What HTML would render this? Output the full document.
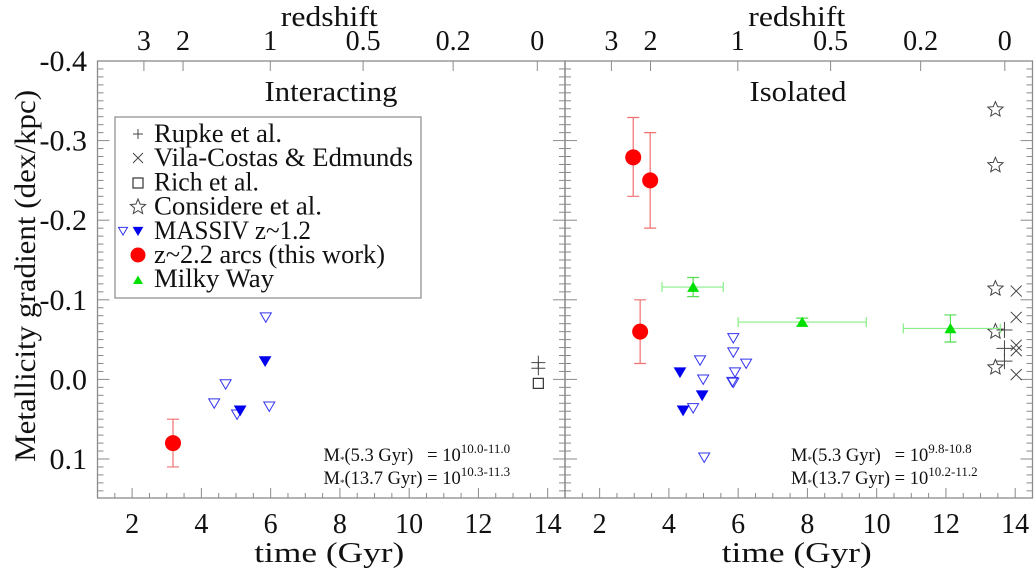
<!DOCTYPE html>
<html><head><meta charset="utf-8"><style>
html,body{margin:0;padding:0;background:#fff;}
svg{display:block;font-family:"Liberation Serif",serif;}
</style></head><body>
<svg id="chart" width="1036" height="572" viewBox="0 0 1036 572"></svg>
<script>
// ---- data ----
const yTicks = [-0.4,-0.3,-0.2,-0.1,0.0,0.1];
const yTickLabels = ["-0.4","-0.3","-0.2","-0.1","0.0","0.1"];
const xTicks = [2,4,6,8,10,12,14];
const zTicks = [2.34,3.47,5.99,8.67,11.27,13.7];
const zTickLabels = ["3","2","1","0.5","0.2","0"];
// left panel (Interacting)
const L_arcsT = [3.18], L_arcsV = [0.080], L_arcsLo = [0.050], L_arcsHi = [0.110];
const L_openT = [5.86,4.70,4.37,5.03,5.96], L_openV = [-0.078,0.006,0.030,0.044,0.034];
const L_fillT = [5.84,5.12], L_fillV = [-0.023,0.039];
const L_plusT = [13.73,13.73], L_plusV = [-0.021,-0.014];
const L_sqT = [13.73], L_sqV = [0.005];
// right panel (Isolated)
const R_arcsT = [2.97,3.46,3.17], R_arcsV = [-0.279,-0.25,-0.06], R_arcsLo = [-0.329,-0.31,-0.10], R_arcsHi = [-0.230,-0.19,-0.02];
const R_mwT = [4.70,7.85,12.13], R_mwV = [-0.116,-0.072,-0.064];
const R_mwTlo = [3.80,6.0,10.77], R_mwThi = [5.57,9.7,13.57], R_mwErr = [0.012,0.005,0.017];
const R_fillT = [4.32,4.96,4.41], R_fillV = [-0.009,0.020,0.039];
const R_openT = [4.90,4.99,5.86,5.86,6.23,5.91,5.83,5.86,4.70,5.02], R_openV = [-0.024,0,-0.052,-0.034,-0.020,-0.009,0.003,0.004,0.036,0.098];
const R_starT = [13.43,13.43,13.43,13.43,13.43], R_starV = [-0.339,-0.269,-0.114,-0.060,-0.015];
const R_xT = [14.03,14.03,14.03,14.03,14.03], R_xV = [-0.111,-0.078,-0.043,-0.036,-0.006];
const R_plusT = [13.69,13.69,13.69], R_plusV = [-0.062,-0.039,-0.023];

// ---- axes ----
const svg = document.getElementById('chart');
const NS = 'http://www.w3.org/2000/svg';
const Y0 = 61, Y1 = 498, VMIN = -0.4, VMAX = 0.149;
const PW = 467.5, TMIN = 1, TMAX = 14.5;
const panelX = [97.5, 565];
function yS(v){ return Y0 + (v - VMIN) / (VMAX - VMIN) * (Y1 - Y0); }
function xS(p, t){ return panelX[p] + (t - TMIN) / (TMAX - TMIN) * PW; }
function mk(tag, attrs, parent){ const e = document.createElementNS(NS, tag); for (const k in attrs) e.setAttribute(k, attrs[k]); (parent || svg).appendChild(e); return e; }
function txt(x, y, s, size, anchor, parent, len){ const a = {x:x, y:y, 'font-size':size, 'text-anchor':anchor || 'middle', fill:'#111'}; if (len){ a.textLength = len; a.lengthAdjust = 'spacingAndGlyphs'; } const e = mk('text', a, parent); e.textContent = s; return e; }

const AX = '#8a8a8a';
for (let p = 0; p < 2; p++){
  const g = mk('g', {});
  
  
  const x0 = panelX[p], x1 = x0 + PW;
  const frame = mk('rect', {x:x0, y:Y0, width:PW, height:Y1-Y0, fill:'none', stroke:AX, 'stroke-width':1.3}, g);
  
  
  for (let i = 0; i <= 55; i++){
    const v = -0.4 + i * 0.01; if (v > VMAX) break;
    const major = i % 10 === 0; const len = major ? 12 : 6; const y = yS(v);
    mk('line', {x1:x0, x2:x0+len, y1:y, y2:y, stroke:AX, 'stroke-width':1}, g);
    mk('line', {x1:x1, x2:x1-len, y1:y, y2:y, stroke:AX, 'stroke-width':1}, g);
  }
  for (let t = 1; t <= 14.5; t += 0.5){
    const major = Math.abs(t - Math.round(t/2)*2) < 1e-6; const x = xS(p, t);
    mk('line', {x1:x, x2:x, y1:Y1, y2:Y1-(major?10:5), stroke:AX, 'stroke-width':1}, g);
  }
  xTicks.forEach(t => { const e = txt(xS(p,t), 533, String(t), 28, 'middle', g);   });
  zTicks.forEach((t, i) => {
    const x = xS(p, t);
    mk('line', {x1:x, x2:x, y1:Y0, y2:Y0+10, stroke:AX, 'stroke-width':1}, g);
    const e = txt(x, 50, zTickLabels[i], 28, 'middle', g);
    
    
  });
  const zt = txt(x0 + PW/2 - 2, 26, 'redshift', 28, 'middle', g, 97);
   
  const xt = txt(x0 + PW/2 - 2, 562, 'time (Gyr)', 29, 'middle', g, 150);
   
  const pt = p ? txt(798, 101, 'Isolated', 29, 'middle', g, 97) : txt(331, 101, 'Interacting', 29, 'middle', g, 133);
   
  const lines = p ? [['M','(5.3 Gyr)\u00a0\u00a0 = 10','9.8-10.8'],['M','(13.7 Gyr) = 10','10.2-11.2']]
                  : [['M','(5.3 Gyr)\u00a0\u00a0 = 10','10.0-11.0'],['M','(13.7 Gyr) = 10','10.3-11.3']];
  lines.forEach((l, i) => {
    const t = mk('text', {x:x0 + 226, y:461 + i*23, 'font-size':18.5, fill:'#111'}, g);
    
    
    const a = mk('tspan', {}, t); a.textContent = l[0];
    const b = mk('tspan', {'font-size':9, dy:2}, t); b.textContent = '*';
    const c = mk('tspan', {dy:-2}, t); c.textContent = l[1];
    const d = mk('tspan', {'font-size':13, dy:-8}, t); d.textContent = l[2];
  });
}
yTicks.forEach((v, i) => { const e = txt(87, yS(v)+10, yTickLabels[i], 30, 'end');   });
const yl = txt(0, 0, 'Metallicity gradient (dex/kpc)', 30, 'middle', null, 372);
yl.setAttribute('transform', 'translate(35,' + yS(-0.13) + ') rotate(-90)');
 

// ---- markers ----
function triDown(x, y, r, fill, stroke){ return mk('polygon', {points:`${x-r},${y-r*0.8} ${x+r},${y-r*0.8} ${x},${y+r*0.9}`, fill:fill, stroke:stroke, 'stroke-width':1}); }
function triUp(x, y, r){ return mk('polygon', {points:`${x-r},${y+r*0.8} ${x+r},${y+r*0.8} ${x},${y-r*0.9}`, fill:'#00e000', stroke:'none'}); }
function plus(x, y, r){ return mk('path', {d:`M${x-r},${y}H${x+r}M${x},${y-r}V${y+r}`, stroke:'#444', 'stroke-width':1, fill:'none'}); }
function cross(x, y, r){ return mk('path', {d:`M${x-r},${y-r}L${x+r},${y+r}M${x+r},${y-r}L${x-r},${y+r}`, stroke:'#444', 'stroke-width':1, fill:'none'}); }
function square(x, y, r){ return mk('rect', {x:x-r, y:y-r, width:2*r, height:2*r, fill:'none', stroke:'#333', 'stroke-width':1.2}); }
function star(x, y, R){ let pts = []; for (let i = 0; i < 10; i++){ const a = -Math.PI/2 + i*Math.PI/5; const r = i%2 ? R*0.45 : R; pts.push((x + r*Math.cos(a)).toFixed(1) + ',' + (y + r*Math.sin(a)).toFixed(1)); } return mk('polygon', {points:pts.join(' '), fill:'none', stroke:'#444', 'stroke-width':1}); }
function vErr(x, ylo, yhi, col, w){ mk('path', {d:`M${x},${ylo}V${yhi}M${x-w},${ylo}H${x+w}M${x-w},${yhi}H${x+w}`, stroke:col, 'stroke-width':1.2, fill:'none'}); }
function hErr(xlo, xhi, y, col, h){ mk('path', {d:`M${xlo},${y}H${xhi}M${xlo},${y-h}V${y+h}M${xhi},${y-h}V${y+h}`, stroke:col, 'stroke-width':1.2, fill:'none'}); }
function name(e, n){   }

function drawArcs(p, T, V, lo, hi){ T.forEach((t, i) => { const x = xS(p,t); vErr(x, yS(lo[i]), yS(hi[i]), '#f07070', 6); const c = mk('circle', {cx:x, cy:yS(V[i]), r:8, fill:'#ff0000'}); name(c, 'arc-point'); }); }
drawArcs(0, L_arcsT, L_arcsV, L_arcsLo, L_arcsHi);
drawArcs(1, R_arcsT, R_arcsV, R_arcsLo, R_arcsHi);
L_openT.forEach((t, i) => name(triDown(xS(0,t), yS(L_openV[i]), 5.5, 'none', '#3333ee'), 'massiv-open-point'));
R_openT.forEach((t, i) => name(triDown(xS(1,t), yS(R_openV[i]), 5.5, 'none', '#3333ee'), 'massiv-open-point'));
L_fillT.forEach((t, i) => name(triDown(xS(0,t), yS(L_fillV[i]), 5.5, '#0000ee', '#0000ee'), 'massiv-filled-point'));
R_fillT.forEach((t, i) => name(triDown(xS(1,t), yS(R_fillV[i]), 5.5, '#0000ee', '#0000ee'), 'massiv-filled-point'));
L_plusT.forEach((t, i) => name(plus(xS(0,t), yS(L_plusV[i]), 7), 'rupke-point'));
R_plusT.forEach((t, i) => name(plus(xS(1,t), yS(R_plusV[i]), 8), 'rupke-point'));
L_sqT.forEach((t, i) => name(square(xS(0,t), yS(L_sqV[i]), 5), 'rich-point'));
R_starT.forEach((t, i) => name(star(xS(1,t), yS(R_starV[i]), 8), 'considere-point'));
R_xT.forEach((t, i) => name(cross(xS(1,t), yS(R_xV[i]), 5.5), 'vila-costas-point'));
R_mwT.forEach((t, i) => {
  const y = yS(R_mwV[i]), x = xS(1,t);
  hErr(xS(1,R_mwTlo[i]), xS(1,R_mwThi[i]), y, '#88ee88', 5);
  vErr(x, yS(R_mwV[i]-R_mwErr[i]), yS(R_mwV[i]+R_mwErr[i]), '#55dd55', 6);
  name(triUp(x, y, 6), 'milky-way-point');
});

// ---- legend ----
const lg = mk('g', {});
 
mk('rect', {x:115, y:117, width:306, height:181, fill:'#fff', stroke:AX, 'stroke-width':1.2}, lg);
const labels = ['Rupke et al.','Vila-Costas & Edmunds','Rich et al.','Considere et al.','MASSIV z~1.2','z~2.2 arcs (this work)','Milky Way'];
const labelLens = [128,259,105,168,157,231,120];
labels.forEach((s, i) => { const y = 134 + i*24.2; const e = txt(154, y+8, s, 26, 'start', lg, labelLens[i]);   });
lg.appendChild(plus(138, 134, 5));
lg.appendChild(cross(138, 158, 5));
lg.appendChild(square(138, 183, 5));
lg.appendChild(star(138, 207, 8));
lg.appendChild(triDown(123, 231, 4.5, 'none', '#3333ee'));
lg.appendChild(triDown(138, 231, 4.5, '#0000ee', '#0000ee'));
lg.appendChild(mk('circle', {cx:138, cy:255, r:7.5, fill:'#ff0000'}));
lg.appendChild(triUp(138, 280, 5));
</script>
</body></html>
